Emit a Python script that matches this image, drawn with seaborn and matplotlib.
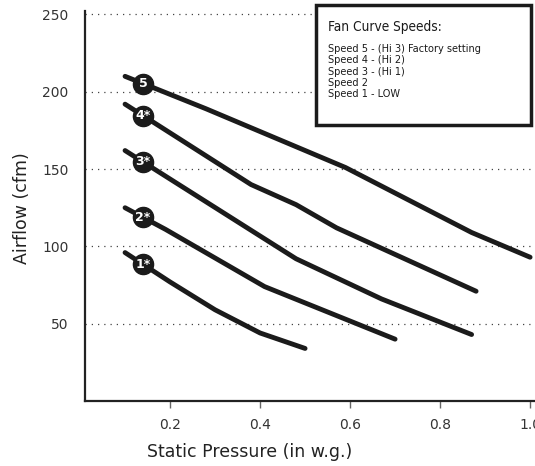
import numpy as np
import pandas as pd
import matplotlib
matplotlib.use("Agg")
import matplotlib.pyplot as plt
from matplotlib.patches import Rectangle
import seaborn as sns

# Fan curve data (static pressure in w.g., airflow in cfm)
speed5_x = [0.10, 0.28, 0.59, 0.87, 1.00]
speed5_y = [210, 189, 151, 109, 93]
speed4_x = [0.10, 0.38, 0.48, 0.57, 0.88]
speed4_y = [192, 140, 127, 112, 71]
speed3_x = [0.10, 0.48, 0.67, 0.87]
speed3_y = [162, 92, 66, 43]
speed2_x = [0.10, 0.19, 0.41, 0.70]
speed2_y = [125, 111, 74, 40]
speed1_x = [0.10, 0.20, 0.30, 0.40, 0.50]
speed1_y = [96, 77, 59, 44, 34]

badge_labels = ["5", "4*", "3*", "2*", "1*"]
badge_x = 0.14

legend_title = "Fan Curve Speeds:"
legend_items = ["Speed 5 - (Hi 3) Factory setting", "Speed 4 - (Hi 2)",
                "Speed 3 - (Hi 1)", "Speed 2", "Speed 1 - LOW"]

x_ticks = [0.2, 0.4, 0.6, 0.8, 1.0]
y_ticks = [50, 100, 150, 200, 250]

series = [(speed5_x, speed5_y), (speed4_x, speed4_y), (speed3_x, speed3_y),
          (speed2_x, speed2_y), (speed1_x, speed1_y)]

rows = []
for name, (xs, ys) in zip(badge_labels, series):
    for xv, yv in zip(xs, ys):
        rows.append({"speed": name, "pressure": xv, "airflow": yv})
df = pd.DataFrame(rows)

sns.set_style("white")
plt.rcParams['font.family'] = ['DejaVu Sans']

line_color = "#1b1b1b"

fig = plt.figure(figsize=(5.35, 4.66), dpi=100)
ax = fig.add_axes([85 / 535, 65 / 466, (540 - 85) / 535, (401 - 11.4) / 466])

# horizontal dotted grid
for yv in y_ticks:
    ax.axhline(yv, color="#444444", linestyle=(0, (1, 4)), linewidth=0.9, zorder=1)

sns.lineplot(data=df, x="pressure", y="airflow", hue="speed", units="speed",
             estimator=None, sort=False,
             palette=[line_color] * 5, linewidth=3.5, legend=False, ax=ax,
             solid_capstyle="round", zorder=3)

# numbered badges on each curve
for name, (xs, ys) in zip(badge_labels, series):
    by = np.interp(badge_x, xs, ys)
    ax.plot(badge_x, by, "o", markersize=14.5, color=line_color, zorder=4)
    ax.text(badge_x, by, name, color="white", fontsize=9, fontweight="bold",
            ha="center", va="center", zorder=5)

ax.set_xlim(0.011, 1.022)
ax.set_ylim(0, 252)
ax.set_xticks(x_ticks)
ax.set_xticklabels(["0.2", "0.4", "0.6", "0.8", "1.0"])
ax.set_yticks(y_ticks)
ax.tick_params(axis="x", length=5, width=1, color="#666666", labelsize=10,
               labelcolor="#333333", pad=7, direction="out", bottom=True)
ax.tick_params(axis="y", length=0, labelsize=10, labelcolor="#333333", pad=12)

for side in ["top", "right"]:
    ax.spines[side].set_visible(False)
for side in ["left", "bottom"]:
    ax.spines[side].set_color("#222222")
    ax.spines[side].set_linewidth(1.6)

ax.set_xlabel("")
ax.set_ylabel("")
fig.text(250 / 535, 1 - 452 / 466, "Static Pressure (in w.g.)", ha="center",
         va="center", fontsize=12.5, color="#222222")
fig.text(22 / 535, 1 - 208 / 466, "Airflow (cfm)", ha="center", va="center",
         rotation=90, fontsize=12.5, color="#222222")

# legend box
box = Rectangle((316 / 535, 1 - 125 / 466), (531 - 316) / 535, (125 - 5) / 466,
                transform=fig.transFigure, facecolor="white", edgecolor="#1b1b1b",
                linewidth=2.5, zorder=10)
fig.patches.append(box)
fig.text(328 / 535, 1 - 27 / 466, legend_title, ha="left", va="center",
         fontsize=9.8, fontstretch="condensed", color="#1b1b1b", zorder=11)
for i, item in enumerate(legend_items):
    fig.text(328 / 535, 1 - (49 + i * 11.3) / 466, item, ha="left", va="center",
             fontsize=7.8, fontstretch="condensed", color="#1b1b1b", zorder=11)

fig.savefig("out.png", dpi=100)
